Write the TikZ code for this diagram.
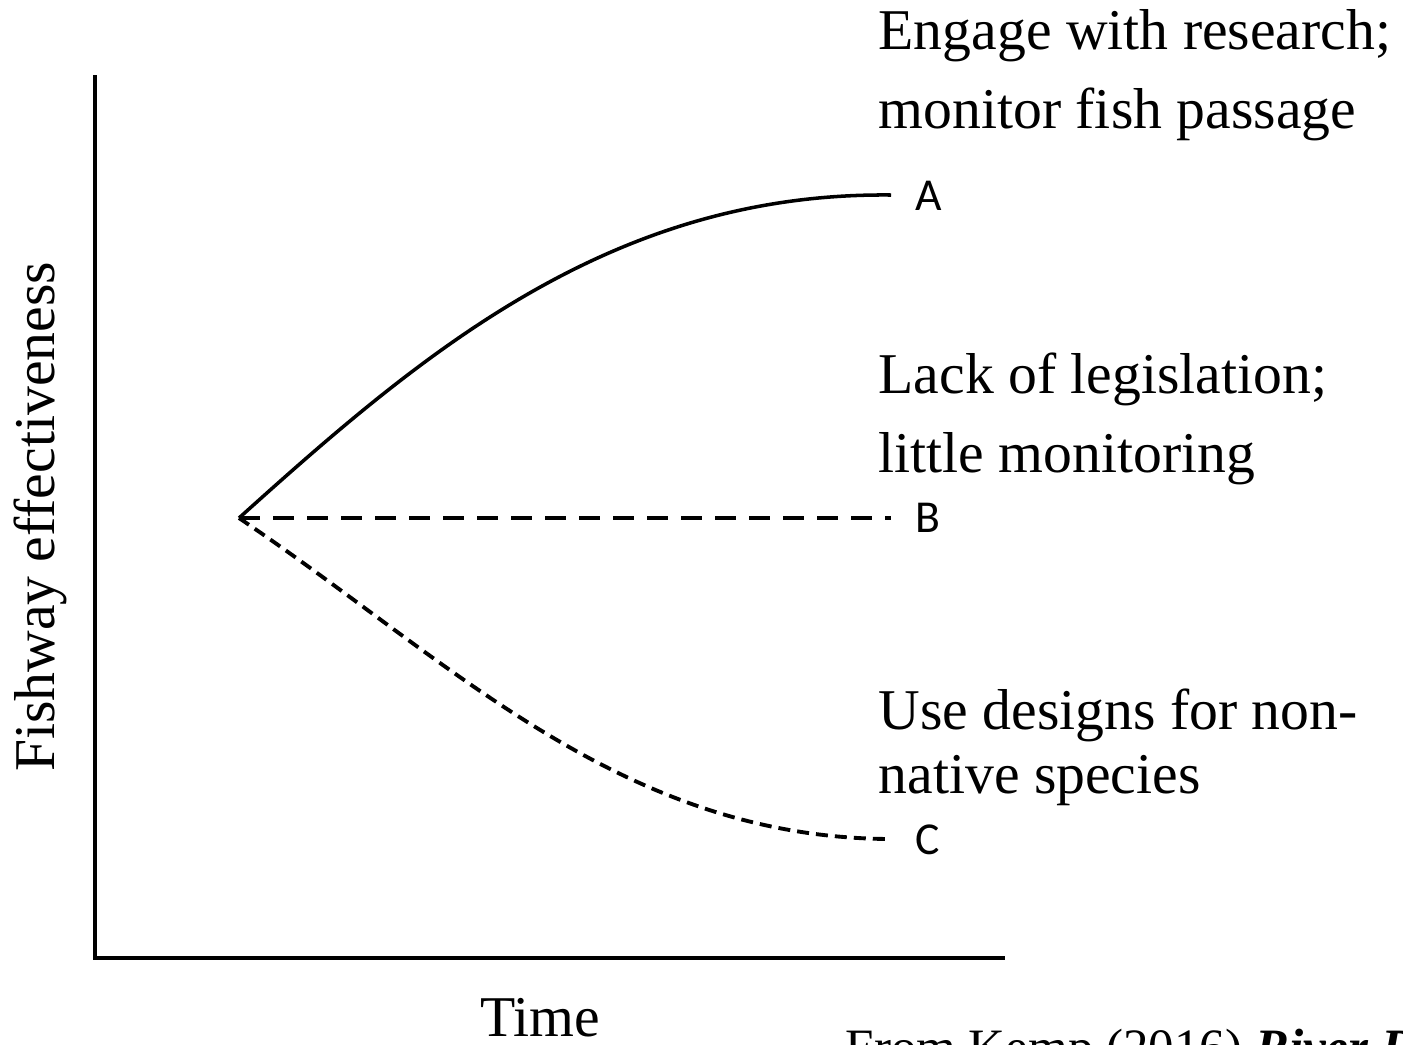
\documentclass[tikz,border=0pt]{standalone}
\usepackage{fontspec}
\setmainfont{Liberation Serif}
\newfontfamily\labelfont{Carlito}
\usetikzlibrary{positioning}

\tikzset{
    axisline/.style={line width=1.2pt},
    pathline/.style={line width=1pt},
    note/.style={align=left, anchor=base west, inner sep=0pt, font=\fontsize{16.4}{22.2}\selectfont},
    endlabel/.style={anchor=west, inner sep=0pt, font=\labelfont\fontsize{13}{15}\selectfont}
}

\begin{document}
\begin{tikzpicture}[x=0.01cm, y=-0.01cm]
    \useasboundingbox (0,0) rectangle (1403,1044);

    % Draw axes
    \coordinate (top) at (95,75);
    \coordinate (orig) at (95,958);
    \coordinate (right) at (1005,958);
    \draw[axisline] (top) -- (orig) -- (right);
    \node[rotate=90, font=\fontsize{16.4}{18}\selectfont] (ylab) at (40,517) {Fishway effectiveness};
    \node[font=\fontsize{16.4}{18}\selectfont] (xlab) at (540,1018) {Time};

    % Draw the three paths
    \coordinate (start) at (239,518);
    \coordinate (A) at (891,195);
    \coordinate (B) at (891,518);
    \coordinate (C) at (891,839);
    \draw[pathline] (start) .. controls (420,355) and (610,192) .. (A);
    \draw[pathline, line width=1.2pt, dash pattern=on 0.21cm off 0.13cm] (start) -- (B);
    \draw[pathline, line width=1.1pt, dash pattern=on 0.12cm off 0.07cm] (start) .. controls (450,660) and (620,838) .. (C);

    % Add labels
    \node[endlabel] (labA) at (915,196) {A};
    \node[endlabel] (labB) at (915,518) {B};
    \node[endlabel] (labC) at (915,840) {C};
    \node[note] (noteA) at (878,128) {Engage with research;\\monitor fish passage};
    \node[note] (noteB) at (878,472) {Lack of legislation;\\little monitoring};
    \node[note, font=\fontsize{16.4}{18.2}\selectfont] (noteC) at (878,793) {Use designs for non-\\native species};
    \node[note, font=\fontsize{14.5}{18}\selectfont] (src) at (845,1064) {From Kemp (2016) \textbf{\textit{River Research and Applications}}};
\end{tikzpicture}
\end{document}
